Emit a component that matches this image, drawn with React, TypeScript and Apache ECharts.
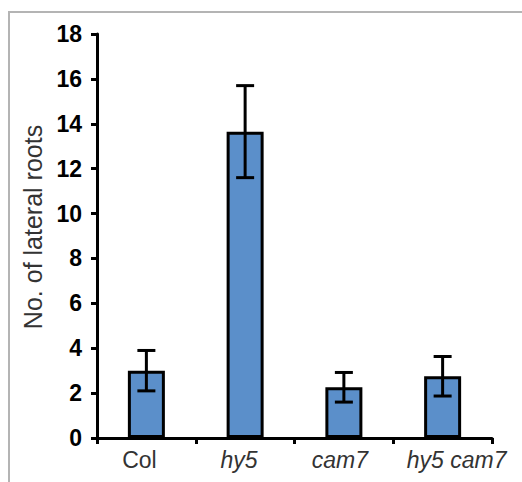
import React, { useEffect, useRef } from "react";
import * as echarts from "echarts";

const categories = ["Col", "hy5", "cam7", "hy5 cam7"];
const means = [3.0, 13.65, 2.26, 2.75];
const errors = [0.9, 2.05, 0.66, 0.88];
const yTicks = { min: 0, max: 18, interval: 2 };
// label nudges (px) as in the reference layout
const labelShift = [-7, -6, -4, 14];

export default function App() {
  const ref = useRef<HTMLDivElement>(null);
  useEffect(() => {
    if (!ref.current) return;
    const chart = echarts.init(ref.current, null, { renderer: "svg" });
    const errData = means.map((m, i) => [i, m - errors[i], m + errors[i]]);
    const catData = categories.map((c, i) => {
      const s = labelShift[i];
      const pad = s >= 0 ? [0, 0, 0, 2 * s] : [0, -2 * s, 0, 0];
      return { value: c, textStyle: { padding: pad } };
    });
    chart.setOption({
      animation: false,
      backgroundColor: "#ffffff",
      graphic: [
        {
          type: "rect",
          shape: { x: 9, y: 12, width: 700, height: 700 },
          style: { fill: "none", stroke: "#b4b4b4", lineWidth: 2 },
          silent: true,
          z: 0,
        },
      ],
      grid: { left: 97, right: 30, top: 34, bottom: 44, containLabel: false },
      xAxis: {
        type: "category",
        data: catData,
        boundaryGap: true,
        axisLine: { lineStyle: { color: "#000", width: 3 } },
        axisTick: { show: true, alignWithLabel: false, interval: 0, length: 6, lineStyle: { color: "#000", width: 3 } },
        axisLabel: {
          interval: 0,
          margin: 10,
          fontSize: 23,
          fontFamily: "Liberation Sans",
          color: "#333",
          formatter: (v: string) => (v === "Col" ? v : "{i|" + v + "}"),
          rich: {
            i: { fontStyle: "italic", fontSize: 23, fontFamily: "Liberation Sans", color: "#333" },
          },
        },
      },
      yAxis: {
        type: "value",
        min: yTicks.min,
        max: yTicks.max,
        interval: yTicks.interval,
        name: "No. of lateral roots",
        nameLocation: "middle",
        nameRotate: 90,
        nameGap: 46,
        nameTextStyle: {
          fontSize: 25,
          fontFamily: "Liberation Sans",
          color: "#333",
          verticalAlign: "middle",
          padding: [0, 0, 0, 18],
        },
        splitLine: { show: false },
        axisLine: { show: true, lineStyle: { color: "#000", width: 3 } },
        axisTick: { show: true, length: 6, lineStyle: { color: "#000", width: 3 } },
        axisLabel: {
          margin: 15,
          fontSize: 23,
          fontWeight: "bold",
          fontFamily: "Liberation Sans",
          color: "#000",
        },
      },
      series: [
        {
          type: "bar",
          data: means,
          barWidth: 37,
          itemStyle: { color: "#5b8fca", borderColor: "#000", borderWidth: 3 },
          z: 2,
        },
        {
          type: "custom",
          data: errData,
          z: 3,
          renderItem: (params: any, api: any) => {
            const x = api.value(0);
            const lo = api.coord([x, api.value(1)]);
            const hi = api.coord([x, api.value(2)]);
            const hw = 9;
            const style = { stroke: "#000", lineWidth: 3, fill: "none" };
            return {
              type: "group",
              children: [
                { type: "line", shape: { x1: lo[0], y1: lo[1], x2: hi[0], y2: hi[1] }, style },
                { type: "line", shape: { x1: lo[0] - hw, y1: lo[1], x2: lo[0] + hw, y2: lo[1] }, style },
                { type: "line", shape: { x1: hi[0] - hw, y1: hi[1], x2: hi[0] + hw, y2: hi[1] }, style },
              ],
            };
          },
        },
      ],
    });
    return () => chart.dispose();
  }, []);
  return (
    <div
      ref={ref}
      style={{ position: "fixed", left: 0, top: 0, width: 522, height: 482, background: "#fff" }}
    />
  );
}
